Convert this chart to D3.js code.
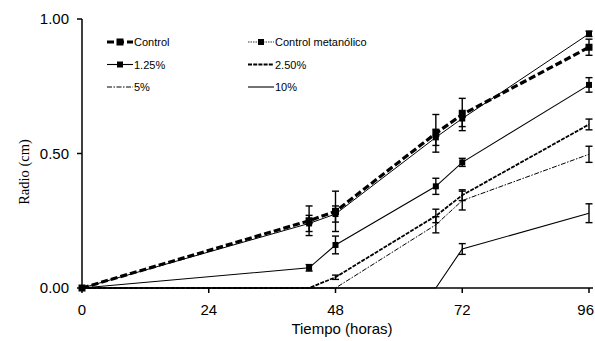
<!DOCTYPE html>
<html>
<head>
<meta charset="utf-8">
<script src="https://cdn.jsdelivr.net/npm/d3@7"></script>
<style>
  body { margin: 0; background: #fff; }
  svg text { font-family: "Liberation Sans", Arial, sans-serif; fill: #000; }
</style>
</head>
<body>
<div id="chart"></div>
<script>
// sampling times (hours)
const hours = [0, 43, 48, 67, 72, 96];
const xTicks = [0, 24, 48, 72, 96];
const yTicks = [0, 0.5, 1.0];

const seriesNames = ["Control", "Control metanólico", "1.25%", "2.50%", "5%", "10%"];
const controlVals = [0, 0.25, 0.285, 0.575, 0.645, 0.895];
const controlErr = [0, 0.055, 0.075, 0.07, 0.06, 0.03];
const metanolVals = [0, 0.24, 0.275, 0.56, 0.63, 0.945];
const metanolErr = [0, 0.03, 0.03, 0.03, 0.03, 0.01];
const p125Vals = [0, 0.075, 0.16, 0.378, 0.467, 0.755];
const p125Err = [0, 0.012, 0.033, 0.03, 0.015, 0.027];
const p250Vals = [0, 0, 0.04, 0.268, 0.345, 0.608];
const p250Err = [0, 0, 0.008, 0.025, 0.02, 0.02];
const p5Vals = [0, 0, 0, 0.235, 0.325, 0.497];
const p5Err = [0, 0, 0, 0.03, 0.035, 0.03];
const p10Vals = [0, 0, 0, 0, 0.145, 0.278];
const p10Err = [0, 0, 0, 0, 0.02, 0.035];

const W = 595, H = 341;
const svg = d3.select("#chart").append("svg")
    .attr("width", W)
    .attr("height", H);

const x = d3.scaleLinear().domain([0, 96]).range([82, 589]);
const y = d3.scaleLinear().domain([0, 1]).range([288, 19]);

// styles per series
const styles = [
    { vals: controlVals, err: controlErr, width: 3.2, dash: "7,3", marker: 7 },
    { vals: metanolVals, err: metanolErr, width: 1, dash: null, marker: 6 },
    { vals: p125Vals, err: p125Err, width: 1.1, dash: null, marker: 6 },
    { vals: p250Vals, err: p250Err, width: 1.8, dash: "4,1.2", marker: 0 },
    { vals: p5Vals, err: p5Err, width: 1, dash: "5,1.5,1.5,1.5", marker: 0 },
    { vals: p10Vals, err: p10Err, width: 1.1, dash: null, marker: 0 }
];

// axes
svg.append("line")
    .attr("x1", x(0)).attr("x2", x(0))
    .attr("y1", y(1)).attr("y2", y(0))
    .attr("stroke", "#000").attr("stroke-width", 1.5);
svg.append("line")
    .attr("x1", x(0)).attr("x2", x(96) + 4)
    .attr("y1", y(0)).attr("y2", y(0))
    .attr("stroke", "#000").attr("stroke-width", 1.5);

yTicks.forEach(function (t) {
    svg.append("line")
        .attr("x1", x(0) - 5).attr("x2", x(0))
        .attr("y1", y(t)).attr("y2", y(t))
        .attr("stroke", "#000").attr("stroke-width", 1.5);
    svg.append("text")
        .attr("x", x(0) - 13)
        .attr("y", y(t) + 5)
        .attr("text-anchor", "end")
        .attr("font-size", 15)
        .text(d3.format(".2f")(t));
});

xTicks.forEach(function (t) {
    svg.append("line")
        .attr("x1", x(t)).attr("x2", x(t))
        .attr("y1", y(0)).attr("y2", y(0) + 5)
        .attr("stroke", "#000").attr("stroke-width", 1.5);
    // last label pushed in so it stays on the page
    const last = t === 96;
    svg.append("text")
        .attr("x", last ? W - 1 : x(t))
        .attr("y", y(0) + 27)
        .attr("text-anchor", last ? "end" : "middle")
        .attr("font-size", 15)
        .text(t);
});

svg.append("text")
    .attr("x", 342)
    .attr("y", 334)
    .attr("text-anchor", "middle")
    .attr("font-size", 15)
    .text("Tiempo (horas)");

svg.append("text")
    .attr("transform", "translate(29,172) rotate(-90)")
    .attr("text-anchor", "middle")
    .attr("font-size", 14.5)
    .style("font-family", "'Liberation Serif', 'Times New Roman', serif")
    .text("Radio (cm)");

const line = d3.line()
    .x(function (d) { return x(d[0]); })
    .y(function (d) { return y(d[1]); });

// draw series from last to first so controls sit on top
for (let i = styles.length - 1; i >= 0; i--) {
    const s = styles[i];
    const pts = hours.map(function (h, j) { return [h, s.vals[j]]; });

    svg.append("path")
        .datum(pts)
        .attr("d", line)
        .attr("fill", "none")
        .attr("stroke", "#000")
        .attr("stroke-width", s.width)
        .attr("stroke-dasharray", s.dash);

    // error bars
    hours.forEach(function (h, j) {
        if (!s.err[j]) return;
        const g = svg.append("g").attr("stroke", "#000").attr("stroke-width", 1.4);
        g.append("line")
            .attr("x1", x(h)).attr("x2", x(h))
            .attr("y1", y(s.vals[j] - s.err[j])).attr("y2", y(s.vals[j] + s.err[j]));
        [s.vals[j] - s.err[j], s.vals[j] + s.err[j]].forEach(function (v) {
            g.append("line")
                .attr("x1", x(h) - 3.5).attr("x2", x(h) + 3.5)
                .attr("y1", y(v)).attr("y2", y(v));
        });
    });

    if (s.marker) {
        svg.selectAll(null)
            .data(pts)
            .enter()
            .append("rect")
            .attr("x", function (d) { return x(d[0]) - s.marker / 2; })
            .attr("y", function (d) { return y(d[1]) - s.marker / 2; })
            .attr("width", s.marker)
            .attr("height", s.marker)
            .attr("fill", "#000");
    }
}

// legend, two columns, three rows
const legend = svg.append("g");
seriesNames.forEach(function (name, i) {
    const s = styles[i];
    const col = i % 2, row = Math.floor(i / 2);
    const lx = 107 + col * 141;
    const ly = 42 + row * 22.5;
    legend.append("line")
        .attr("x1", lx).attr("x2", lx + 26)
        .attr("y1", ly).attr("y2", ly)
        .attr("stroke", "#000")
        .attr("stroke-width", i === 1 ? 0.8 : s.width)
        .attr("stroke-dasharray", i === 1 ? "1.5,1" : s.dash);
    if (s.marker) {
        legend.append("rect")
            .attr("x", lx + 13 - s.marker / 2)
            .attr("y", ly - s.marker / 2)
            .attr("width", s.marker)
            .attr("height", s.marker)
            .attr("fill", "#000");
    }
    legend.append("text")
        .attr("x", lx + 27)
        .attr("y", ly + 4)
        .attr("font-size", 11)
        .text(name);
});
</script>
</body>
</html>
